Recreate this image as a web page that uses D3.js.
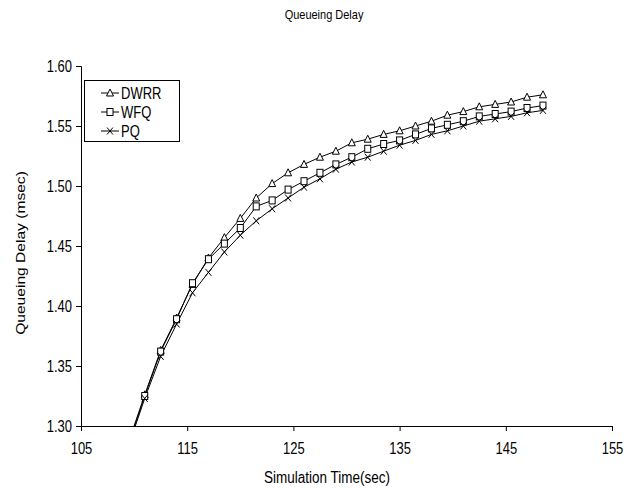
<!DOCTYPE html>
<html>
<head>
<meta charset="utf-8">
<script src="https://cdn.jsdelivr.net/npm/d3@7/dist/d3.min.js"></script>
<style>
  html, body { margin: 0; padding: 0; background: #fff; }
  svg { display: block; font-family: "Liberation Sans", Arial, sans-serif; }
</style>
</head>
<body>
<svg id="chart" width="640" height="488"></svg>
<script>
// Simulation time samples (sec)
const times = [109.5, 111, 112.5, 114, 115.5, 117, 118.5, 120, 121.5, 123, 124.5, 126, 127.5,
  129, 130.5, 132, 133.5, 135, 136.5, 138, 139.5, 141, 142.5, 144, 145.5, 147, 148.5];

// Queueing delay per scheduler (msec)
const dwrr = [1.287, 1.326, 1.363, 1.390, 1.418, 1.440, 1.457, 1.473, 1.490, 1.502, 1.511, 1.518, 1.524,
  1.529, 1.536, 1.539, 1.543, 1.546, 1.550, 1.554, 1.559, 1.562, 1.566, 1.568, 1.570, 1.574, 1.576];
const wfq = [1.286, 1.325, 1.362, 1.389, 1.419, 1.439, 1.452, 1.465, 1.483, 1.488, 1.497, 1.504, 1.511,
  1.518, 1.524, 1.531, 1.535, 1.538, 1.543, 1.548, 1.551, 1.554, 1.558, 1.560, 1.562, 1.565, 1.567];
const pq = [1.284, 1.323, 1.358, 1.385, 1.411, 1.428, 1.445, 1.459, 1.471, 1.481, 1.490, 1.499, 1.506,
  1.514, 1.520, 1.524, 1.529, 1.534, 1.538, 1.543, 1.546, 1.550, 1.554, 1.556, 1.558, 1.561, 1.563];

const seriesNames = ["DWRR", "WFQ", "PQ"];
const seriesMarkers = ["triangle", "square", "cross"];

// Axis ticks
const xTicks = [105, 115, 125, 135, 145, 155];
const yTicks = [1.30, 1.35, 1.40, 1.45, 1.50, 1.55, 1.60];

const svg = d3.select("#chart");
const plotLeft = 81, plotRight = 612, plotTop = 66, plotBottom = 426;
const tall = 1.2; // vertical stretch applied to lettering

const x = d3.scaleLinear().domain([105, 155]).range([plotLeft, plotRight]);
const y = d3.scaleLinear().domain([1.30, 1.60]).range([plotBottom, plotTop]);

// Title
svg.append("text")
  .attr("text-anchor", "middle")
  .attr("font-size", 11)
  .attr("transform", `translate(324,19) scale(1,${tall})`)
  .text("Queueing Delay");

// Axes
const xAxis = svg.append("g")
  .attr("transform", `translate(0,${plotBottom})`)
  .call(d3.axisBottom(x).tickValues(xTicks).tickFormat(d3.format("d")).tickSizeOuter(0).tickSize(5));
const yAxis = svg.append("g")
  .attr("transform", `translate(${plotLeft},0)`)
  .call(d3.axisLeft(y).tickValues(yTicks).tickFormat(d3.format(".2f")).tickSizeOuter(0).tickSize(5));

[xAxis, yAxis].forEach(g => {
  g.select(".domain").attr("stroke", "#000").attr("stroke-width", 1);
  g.selectAll(".tick line").attr("stroke", "#000");
  g.selectAll(".tick text").attr("fill", "#000").attr("font-size", 13)
    .attr("font-family", "'Liberation Sans', Arial, sans-serif")
    .attr("x", null).attr("y", null).attr("dy", null);
});
xAxis.selectAll(".tick text").attr("transform", `translate(0,27.5) scale(1,${tall})`);
yAxis.selectAll(".tick text").attr("transform", `translate(-9,5.5) scale(1,${tall})`);

// Axis titles
svg.append("text")
  .attr("text-anchor", "middle")
  .attr("font-size", 13.5)
  .attr("transform", `translate(327,482.5) scale(1,${tall})`)
  .text("Simulation Time(sec)");
svg.append("text")
  .attr("text-anchor", "middle")
  .attr("font-size", 13)
  .attr("transform", `translate(25,253) rotate(-90) scale(${tall},1)`)
  .text("Queueing Delay (msec)");

// Plot clip
svg.append("clipPath").attr("id", "plot-clip")
  .append("rect").attr("x", plotLeft).attr("y", plotTop - 4)
  .attr("width", plotRight - plotLeft).attr("height", plotBottom - plotTop + 4);

const seriesData = [dwrr, wfq, pq].map((vals, i) => ({
  name: seriesNames[i],
  marker: seriesMarkers[i],
  points: vals.map((v, j) => ({ t: times[j], v }))
}));

const line = d3.line().x(d => x(d.t)).y(d => y(d.v));

function drawMarker(g, type, cx, cy) {
  if (type === "triangle") {
    g.append("path")
      .attr("d", `M${cx},${cy - 4}L${cx + 3.5},${cy + 3}L${cx - 3.5},${cy + 3}Z`)
      .attr("fill", "#fff").attr("stroke", "#000").attr("stroke-width", 1);
  } else if (type === "square") {
    g.append("rect")
      .attr("x", cx - 3).attr("y", cy - 3.5).attr("width", 6).attr("height", 7)
      .attr("fill", "#fff").attr("stroke", "#000").attr("stroke-width", 1);
  } else {
    g.append("path")
      .attr("d", `M${cx - 3},${cy - 3.5}L${cx + 3},${cy + 3.5}M${cx + 3},${cy - 3.5}L${cx - 3},${cy + 3.5}`)
      .attr("stroke", "#000").attr("stroke-width", 1);
  }
}

const plot = svg.append("g").attr("clip-path", "url(#plot-clip)");
seriesData.forEach(s => {
  plot.append("path")
    .datum(s.points)
    .attr("d", line)
    .attr("fill", "none")
    .attr("stroke", "#000")
    .attr("stroke-width", 1);
});
seriesData.forEach(s => {
  const g = plot.append("g");
  s.points.filter(p => p.v >= 1.30).forEach(p => drawMarker(g, s.marker, x(p.t), y(p.v)));
});

// Legend
const legend = svg.append("g");
legend.append("rect")
  .attr("x", 84.5).attr("y", 80.5).attr("width", 95).attr("height", 61)
  .attr("fill", "#fff").attr("stroke", "#000").attr("stroke-width", 1);
seriesData.forEach((s, i) => {
  const ly = 93 + i * 19;
  legend.append("line")
    .attr("x1", 101).attr("x2", 119).attr("y1", ly).attr("y2", ly)
    .attr("stroke", "#000").attr("stroke-width", 1);
  drawMarker(legend, s.marker, 110, ly);
  legend.append("text")
    .attr("font-size", 13)
    .attr("transform", `translate(121,${ly + 5.5}) scale(1,${tall})`)
    .text(s.name);
});
</script>
</body>
</html>
